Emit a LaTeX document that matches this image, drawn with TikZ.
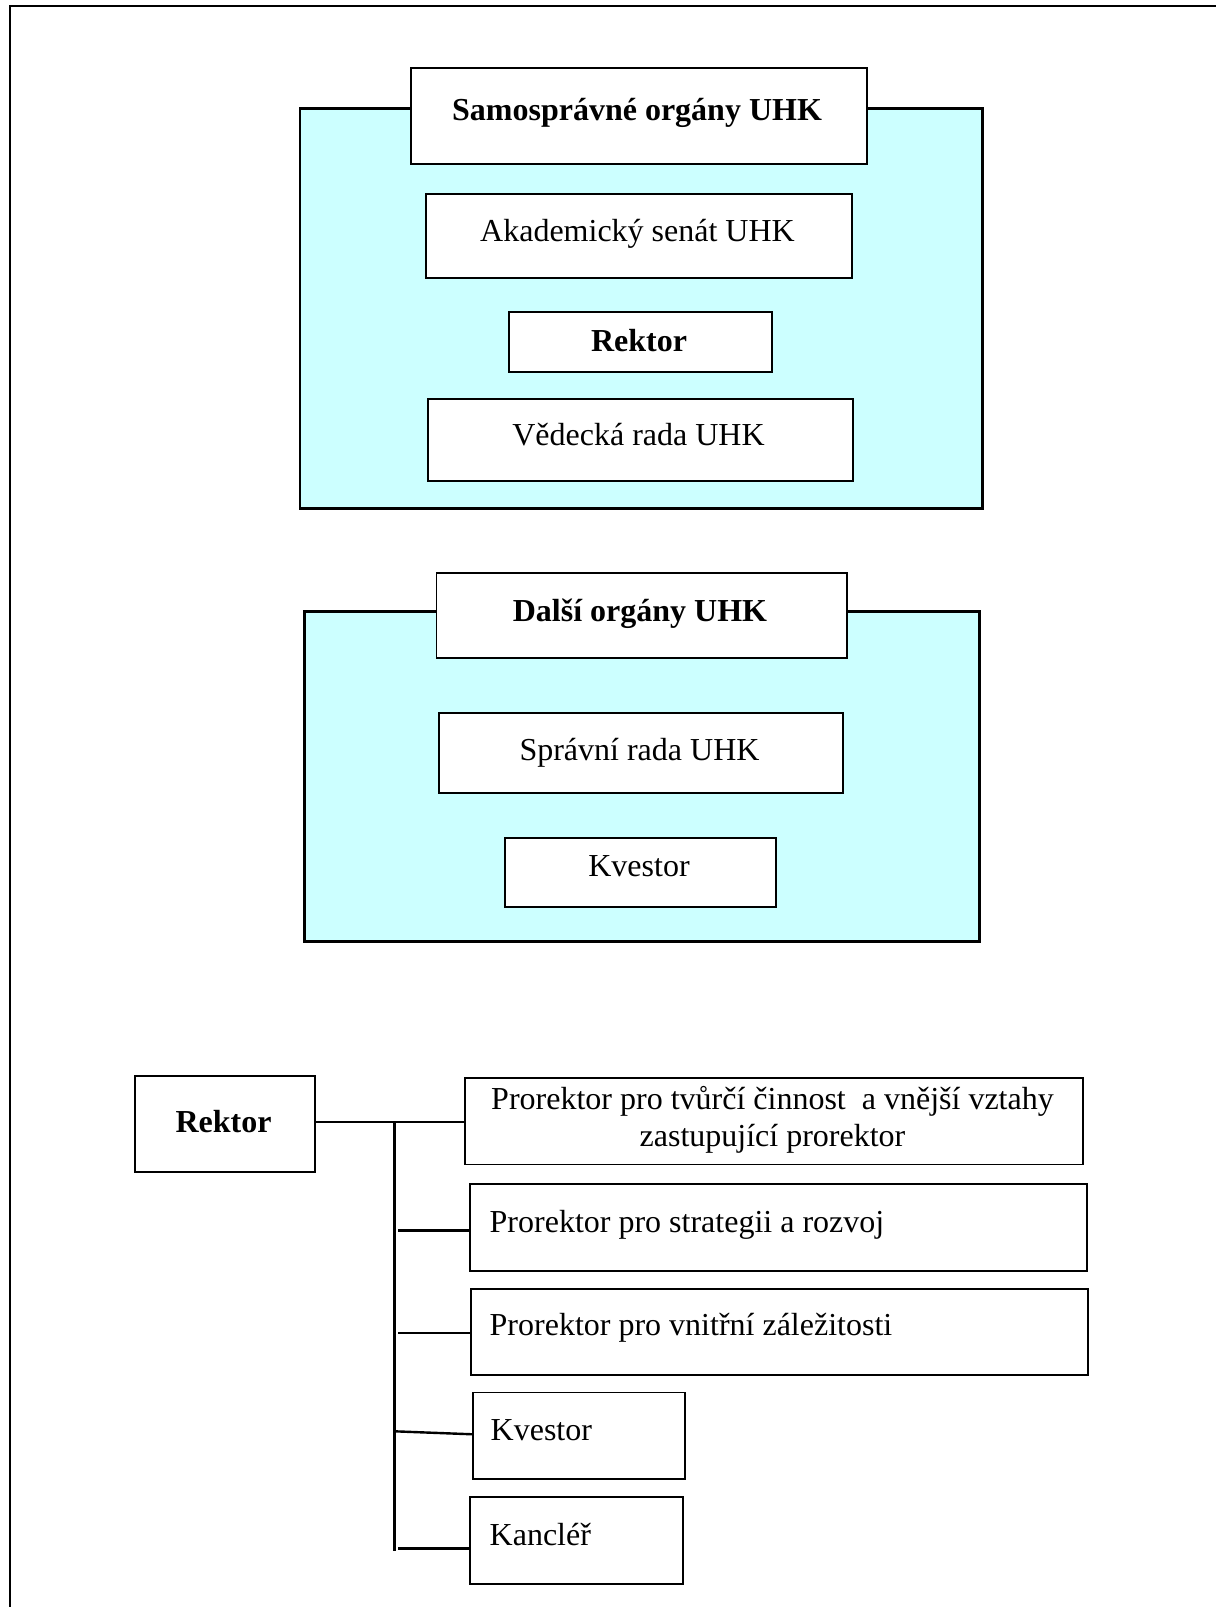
\documentclass[tikz,border=0pt]{standalone}
\usepackage{fontspec}
\setmainfont{Liberation Serif}
\definecolor{panelcyan}{HTML}{CCFFFF}
\begin{document}
\begin{tikzpicture}[x=1pt,y=-1pt,
  frame/.style={line width=2pt},
  panel/.style={draw, fill=panelcyan, line width=2.6pt, anchor=north west, inner sep=0pt},
  box/.style={draw, fill=white, line width=1.8pt, anchor=north west, inner sep=0pt},
  txt/.style={inner sep=0pt, anchor=base, font=\fontsize{32}{36.8}\selectfont},
  txtl/.style={inner sep=0pt, anchor=base west, font=\fontsize{32}{36.8}\selectfont},
  conn/.style={line width=2.4pt}]
\useasboundingbox (0,0) rectangle (1216,1607);
% outer frame (top and left edges)
\coordinate (fA) at (10,1607);
\coordinate (fB) at (10,6);
\coordinate (fC) at (1216,6);
\draw[frame] (fA) -- (fB) -- (fC);

% ---- panel 1
\node[panel, minimum width=682.8pt, minimum height=400pt] (p1) at (298.5,107.3) {};
\node[box, minimum width=456.4pt, minimum height=96pt] (t1) at (410,67.3) {};
\node[txt, font=\fontsize{32}{36.8}\selectfont\bfseries] (t1l) at (637,120) {Samosprávné orgány UHK};
\node[box, minimum width=425.6pt, minimum height=84pt] (as) at (425.4,193.3) {};
\node[txt] (asl) at (637.5,241.7) {Akademický senát UHK};
\node[box, minimum width=263pt, minimum height=60pt] (rk1) at (508,310.7) {};
\node[txt, font=\fontsize{32}{36.8}\selectfont\bfseries] (rk1l) at (639,351.7) {Rektor};
\node[box, minimum width=425.3pt, minimum height=82pt] (vr) at (426.7,398) {};
\node[txt] (vrl) at (638.5,445) {Vědecká rada UHK};

% ---- panel 2
\node[panel, minimum width=675pt, minimum height=330pt] (p2) at (303,610) {};
\node[box, minimum width=410.5pt, minimum height=85.6pt] (t2) at (435.5,571.7) {};
\node[txt, font=\fontsize{32}{36.8}\selectfont\bfseries] (t2l) at (640,621) {Další orgány UHK};
\node[box, minimum width=403.5pt, minimum height=80pt] (sr) at (438.3,712.3) {};
\node[txt] (srl) at (639.5,760) {Správní rada UHK};
\node[box, minimum width=271.2pt, minimum height=69pt] (kv1) at (503.8,836.7) {};
\node[txt] (kv1l) at (639,876.7) {Kvestor};

% ---- bottom chart
\node[box, minimum width=180.3pt, minimum height=96.5pt] (rk) at (133.8,1074.7) {};
\node[txt, font=\fontsize{32}{36.8}\selectfont\bfseries] (rkl) at (223.5,1132.5) {Rektor};
\node[box, minimum width=617.5pt, minimum height=86.7pt] (b1) at (464.2,1076.8) {};
\node[txt] (b1a) at (772.5,1109.5) {Prorektor pro tvůrčí činnost\ \ a vnější vztahy};
\node[txt] (b1b) at (772.5,1146.3) {zastupující prorektor};
\node[box, minimum width=617pt, minimum height=86.8pt] (b2) at (468.8,1183) {};
\node[txtl] (b2l) at (489.5,1232) {Prorektor pro strategii a rozvoj};
\node[box, minimum width=616.5pt, minimum height=86pt] (b3) at (470.3,1288) {};
\node[txtl] (b3l) at (489.5,1335) {Prorektor pro vnitřní záležitosti};
\node[box, minimum width=212.1pt, minimum height=86.7pt] (b4) at (471.8,1391.5) {};
\node[txtl] (b4l) at (490.5,1440) {Kvestor};
\node[box, minimum width=212.5pt, minimum height=86.6pt] (b5) at (469.3,1496.4) {};
\node[txtl] (b5l) at (489.5,1545) {Kancléř};

% connectors
\coordinate (trunkTop) at (394.5,1122.2);
\coordinate (trunkBot) at (394.5,1551);
\coordinate (j2) at (398.3,1230.3);
\coordinate (j3) at (398.3,1332.7);
\coordinate (j4) at (394.5,1431.3);
\coordinate (j5) at (398.3,1548.5);
\draw[conn] (rk.east |- trunkTop) -- (b1.west |- trunkTop);
\draw[conn] (trunkTop) -- (trunkBot);
\draw[conn] (j2) -- (b2.west |- j2);
\draw[conn] (j3) -- (b3.west |- j3);
\draw[conn] (j4) -- ([yshift=1.5pt]b4.west);
\draw[conn] (j5) -- (b5.west |- j5);
\end{tikzpicture}
\end{document}
